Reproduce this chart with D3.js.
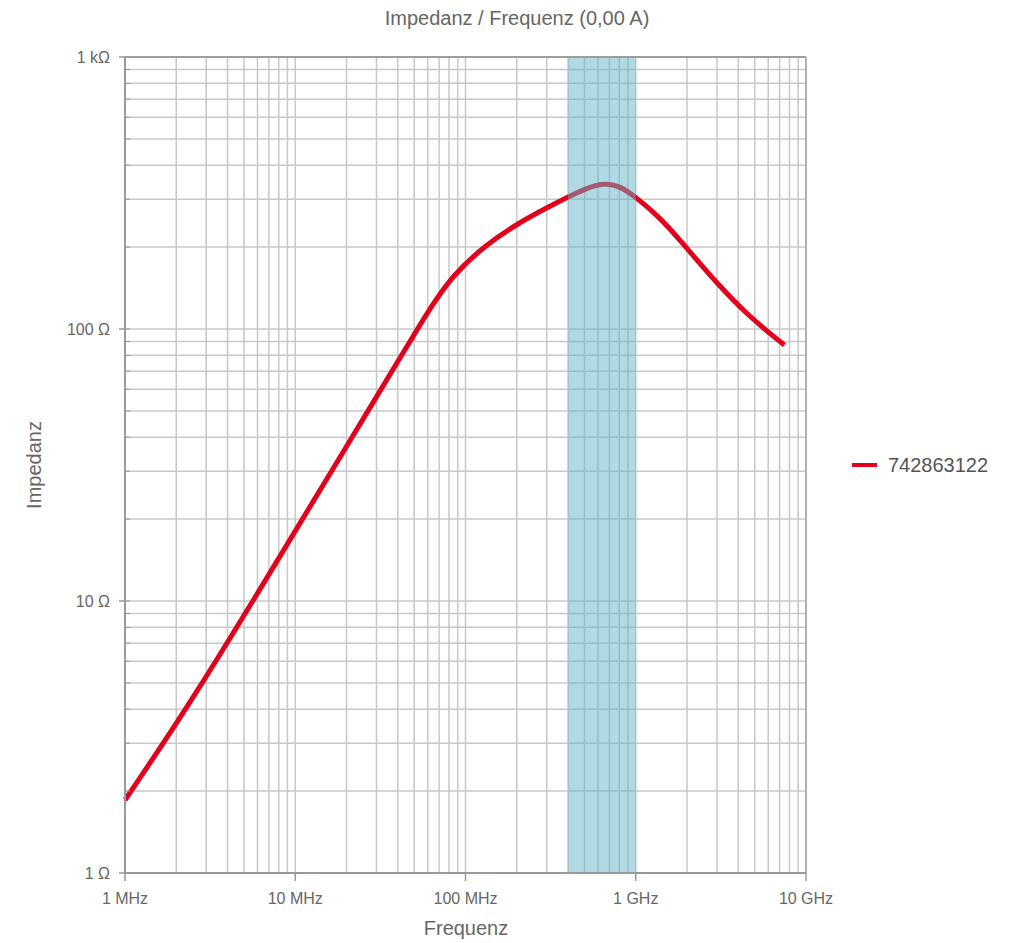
<!DOCTYPE html>
<meta charset="utf-8">
<style>
body{margin:0;background:#fff;}
text{font-family:"Liberation Sans", Arial, sans-serif;}
</style>
<body>
<script src="https://d3js.org/d3.v7.min.js"></script>
<script>
// curve: frequency in MHz, impedance in Ohm
var freqMHz = [1, 2.5, 8.46, 20.1, 30.1, 39.5, 49, 61.6, 84.1, 133, 200, 300, 409, 535, 656, 804, 984, 1380, 1883, 2979, 4656, 7466];
var impedance = [1.855, 4.33, 15.2, 37.2, 56.5, 75, 93.5, 118.5, 158, 205, 243, 279, 308, 333, 344, 336, 308, 258, 207, 147.6, 110.7, 87.3];
var xTicks = [1, 10, 100, 1000, 10000];
var xTickLabels = ["1 MHz", "10 MHz", "100 MHz", "1 GHz", "10 GHz"];
var yTicks = [1, 10, 100, 1000];
var yTickLabels = ["1 Ω", "10 Ω", "100 Ω", "1 kΩ"];
var band = [400, 1000];
var seriesName = "742863122";

var w = 1018, h = 943;
var pL = 125, pT = 57, pR = 806, pB = 873;

var svg = d3.select("body").append("svg")
  .attr("width", w).attr("height", h);

var x = d3.scaleLog().domain([1, 10000]).range([pL, pR]);
var y = d3.scaleLog().domain([1, 1000]).range([pB, pT]);

// minor + major grid values
var xGrid = [], yGrid = [];
for (var d = 1; d < 10000; d *= 10) for (var k = 1; k < 10; k++) xGrid.push(d * k);
xGrid.push(10000);
for (var d2 = 1; d2 < 1000; d2 *= 10) for (var k2 = 1; k2 < 10; k2++) yGrid.push(d2 * k2);
yGrid.push(1000);

var grid = svg.append("g");
grid.selectAll(".vg").data(xGrid).enter().append("line")
  .attr("x1", function(d){return x(d)}).attr("x2", function(d){return x(d)})
  .attr("y1", pT).attr("y2", pB)
  .attr("stroke", "#c8c8c8").attr("stroke-width", 1.5);
grid.selectAll(".hg").data(yGrid).enter().append("line")
  .attr("y1", function(d){return y(d)}).attr("y2", function(d){return y(d)})
  .attr("x1", pL).attr("x2", pR)
  .attr("stroke", "#c8c8c8").attr("stroke-width", 1.5);

// frame
svg.append("line").attr("x1", pL).attr("x2", pR).attr("y1", pT).attr("y2", pT)
  .attr("stroke", "#8a8a8a").attr("stroke-width", 1.5);
svg.append("line").attr("x1", pR).attr("x2", pR).attr("y1", pT).attr("y2", pB)
  .attr("stroke", "#b0b0b0").attr("stroke-width", 2);

// impedance curve
var line = d3.line()
  .x(function(d){return x(d[0])})
  .y(function(d){return y(d[1])})
  .curve(d3.curveBasis);
svg.append("path")
  .datum(freqMHz.map(function(f, i){return [f, impedance[i]]}))
  .attr("d", line)
  .attr("fill", "none")
  .attr("stroke", "#e2001a")
  .attr("stroke-width", 5)
  .attr("stroke-linejoin", "round");

// shaded band on top
svg.append("rect")
  .attr("x", x(band[0])).attr("width", x(band[1]) - x(band[0]))
  .attr("y", pT).attr("height", pB - pT)
  .attr("fill", "#64b4c8").attr("fill-opacity", 0.5);

// axes lines
svg.append("line").attr("x1", pL).attr("x2", pL).attr("y1", pT).attr("y2", pB)
  .attr("stroke", "#999").attr("stroke-width", 2);
svg.append("line").attr("x1", pL).attr("x2", pR).attr("y1", pB).attr("y2", pB)
  .attr("stroke", "#999").attr("stroke-width", 2);

// y minor ticks
svg.selectAll(".ymt").data(yGrid).enter().append("line")
  .attr("x1", pL).attr("x2", pL + 5)
  .attr("y1", function(d){return y(d)}).attr("y2", function(d){return y(d)})
  .attr("stroke", "#999").attr("stroke-width", 1);

// y major ticks + labels
svg.selectAll(".yt").data(yTicks).enter().append("line")
  .attr("x1", pL - 6).attr("x2", pL)
  .attr("y1", function(d){return y(d)}).attr("y2", function(d){return y(d)})
  .attr("stroke", "#999").attr("stroke-width", 1.5);
svg.selectAll(".yl").data(yTicks).enter().append("text")
  .attr("x", pL - 15).attr("y", function(d){return y(d) + 6})
  .attr("text-anchor", "end").attr("font-size", "16px").attr("fill", "#666")
  .text(function(d, i){return yTickLabels[i]});

// x major ticks + labels
svg.selectAll(".xt").data(xTicks).enter().append("line")
  .attr("x1", function(d){return x(d)}).attr("x2", function(d){return x(d)})
  .attr("y1", pB).attr("y2", pB + 8)
  .attr("stroke", "#999").attr("stroke-width", 1.5);
svg.selectAll(".xl").data(xTicks).enter().append("text")
  .attr("x", function(d){return x(d)}).attr("y", pB + 31)
  .attr("text-anchor", "middle").attr("font-size", "16px").attr("fill", "#666")
  .text(function(d, i){return xTickLabels[i]});

// titles
svg.append("text").attr("x", 517).attr("y", 25)
  .attr("text-anchor", "middle").attr("font-size", "20px").attr("fill", "#666")
  .text("Impedanz / Frequenz (0,00 A)");
svg.append("text").attr("x", 466).attr("y", 935)
  .attr("text-anchor", "middle").attr("font-size", "20px").attr("fill", "#666")
  .text("Frequenz");
svg.append("text")
  .attr("transform", "translate(41," + ((pT + pB) / 2) + ") rotate(-90)")
  .attr("text-anchor", "middle").attr("font-size", "20px").attr("fill", "#666")
  .text("Impedanz");

// legend
svg.append("line").attr("x1", 852).attr("x2", 877).attr("y1", 465).attr("y2", 465)
  .attr("stroke", "#e2001a").attr("stroke-width", 4);
svg.append("text").attr("x", 888).attr("y", 472)
  .attr("font-size", "20px").attr("fill", "#555")
  .text(seriesName);
</script>
</body>
